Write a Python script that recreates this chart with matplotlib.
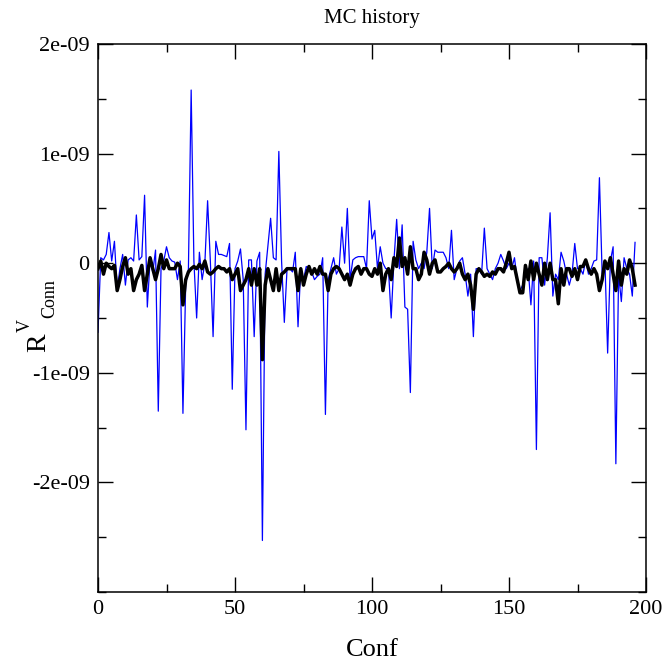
import matplotlib
matplotlib.use("Agg")
import matplotlib.pyplot as plt
import numpy as np

plt.rcParams['font.family'] = ['Liberation Serif', 'DejaVu Serif']

scale = 1e-10
blue = [-6.3, 0.5, 0.3, 0.8, 2.8, 0.2, 2.0, -2.4, -0.5, 0.8,
        -2.0, 0.3, 0.5, 0.2, 4.4, 0.3, 0.6, 6.2, -4.0, 0.3,
        -0.8, 1.2, -13.5, -0.5, 0.2, 1.5, 0.5, 0.2, 0.1, -1.5,
        0.2, -13.7, -2.0, -0.5, 15.8, 0.2, -5.0, 1.0, -1.5, 0.0,
        5.7, 0.2, -6.7, 2.0, 0.8, 0.8, 0.7, 0.6, 1.8, -11.5,
        -0.5, 0.2, 1.3, -1.5, -15.2, 0.3, 0.3, -6.7, 0.2, 1.0,
        -25.3, -1.0, 1.5, 4.1, 0.5, 0.3, 10.2, 0.2, -5.4, -0.5,
        -0.5, -0.8, 1.0, -5.8, -0.5, -1.5, -0.3, -0.5, -0.8, -1.5,
        -1.2, -1.0, 0.5, -13.8, -1.5, -0.5, 0.5, -1.0, -0.5, 3.3,
        0.0, 5.0, -1.5, 0.3, 0.5, 0.6, 0.6, 0.6, -0.5, 5.7,
        2.2, 3.0, -0.5, 1.5, 0.0, -0.5, -0.5, -5.0, 0.2, 4.0,
        -0.5, 3.5, -4.0, -4.2, -11.8, 2.0, 0.3, -0.5, 0.0, -0.5,
        1.0, 5.0, -0.5, 1.2, 1.0, 1.0, 1.0, 0.5, -0.5, 3.0,
        -1.5, -0.5, 0.2, 0.5, -1.0, -3.0, -1.0, -6.7, -0.5, -0.5,
        -1.0, 3.2, -0.5, -1.0, -1.5, -0.5, 0.0, 0.8, 0.2, -0.5,
        0.0, -0.5, 0.5, -1.5, -2.5, -2.0, -1.0, -0.5, -3.8, 0.2,
        -17.0, 0.5, 0.5, -2.0, 0.5, 4.6, -3.0, -1.0, -1.5, 1.0,
        0.2, -1.0, -2.0, -1.0, 1.8, -0.5, -0.5, -1.0, 0.3, -1.0,
        -0.5, 0.2, 0.3, 7.8, -1.0, 0.2, -8.2, 0.2, 1.5, -18.3,
        -1.0, -3.5, 0.5, -0.5, -1.0, -3.0, 1.9]
black = [-0.5, 0.2, -1.0, 0.0, -0.3, -0.5, -0.2, -2.5, -1.5, -0.3,
         0.5, -1.0, -0.5, -2.5, -1.5, -1.0, -0.2, -2.5, -1.0, 0.5,
         -0.5, -1.5, -0.5, 0.8, -0.5, 0.3, -0.5, -0.5, -0.5, 0.0,
         -0.3, -3.8, -1.5, -0.8, -0.5, -0.3, -0.5, -0.1, -0.5, 0.2,
         -0.8, -1.0, -0.8, -0.5, -0.3, -0.5, -0.5, -0.8, -0.5, -1.5,
         -1.0, -0.5, -2.5, -2.0, -1.5, -0.5, -2.0, -0.5, -2.0, -0.5,
         -8.8, -2.0, -0.5, -1.5, -2.5, -0.5, -2.5, -1.0, -0.8, -0.5,
         -0.5, -0.5, -0.5, -2.5, -0.5, -2.0, -1.0, -0.3, -1.0, -0.5,
         -1.0, -0.3, -1.0, -1.0, -2.5, -1.0, -0.5, -0.3, -0.5, -1.0,
         -1.5, -1.0, -2.0, -1.0, -0.5, -0.3, -1.0, -0.5, -0.5, -1.0,
         -1.2, -0.5, -1.0, 0.0, -2.5, -1.0, -0.5, -1.5, 0.5, -0.3,
         2.3, -0.3, 0.5, -1.0, 1.5, -0.5, -0.5, -1.5, -1.0, 1.0,
         0.3, -1.0, 0.0, 0.3, -0.8, -0.8, -0.5, -0.3, 0.0, -0.5,
         -0.8, -0.5, 0.0, -1.0, -1.5, -1.0, -2.0, -4.2, -1.0, -0.5,
         -0.8, -1.2, -1.0, -1.2, -0.8, -1.0, -0.5, -0.5, -0.8, 0.0,
         1.0, -0.5, -0.3, -1.5, -2.7, -2.7, -0.2, -1.5, 0.2, -1.5,
         0.0, -1.0, -2.0, 0.0, -1.5, 0.0, -1.5, -1.5, -3.7, -0.5,
         -2.0, -0.5, -0.5, -1.2, -0.5, -1.5, -0.3, -0.3, 0.3, -0.5,
         -1.0, -0.5, -1.0, -2.5, -1.5, 0.2, -0.5, 0.5, -1.0, -2.5,
         0.2, -2.0, -0.5, -1.0, 0.3, -0.5, -2.0]

conf = np.arange(len(blue))
blue_v = np.array(blue) * scale
black_v = np.array(black) * scale

xticks = [0, 50, 100, 150, 200]
yticks = [-2e-9, -1e-9, 0, 1e-9, 2e-9]
yticklabels = ['-2e-09', '-1e-09', '0', '1e-09', '2e-09']

W, H = 665, 669
fig = plt.figure(figsize=(W/100, H/100), dpi=100)
ax = fig.add_axes([98/W, 1-592/H, (646-98)/W, (592-44)/H])
ax.plot(conf, blue_v, color='#0000ff', lw=0.9)
ax.plot(conf, black_v, color='black', lw=2.5)

ax.set_xlim(0, 200)
ax.set_ylim(-3e-9, 2e-9)
ax.set_xticks(xticks)
ax.set_xticks(np.arange(0, 201, 25), minor=True)
ax.set_yticks(yticks)
ax.set_yticklabels(yticklabels)
ax.set_yticks(np.arange(-3e-9, 2.01e-9, 0.5e-9), minor=True)
ax.tick_params(which='both', direction='in', top=True, right=True, labelsize=16, width=1.0)
ax.tick_params(which='major', length=11, pad=6)
ax.tick_params(which='minor', length=5.5)
for s in ax.spines.values():
    s.set_linewidth(1.1)

fig.text(372/W, 1-18/H, 'MC history', fontsize=15, ha='center', va='center')
fig.text(372/W, 1-650/H, 'Conf', fontsize=19, ha='center', va='center')
# y label: R with superscript V and subscript Conn (Grace style)
fig.text(39/W, 1-343/H, 'R', fontsize=20, rotation=90, ha='center', va='center')
fig.text(25/W, 1-326/H, 'V', fontsize=13, rotation=90, ha='center', va='center')
fig.text(50/W, 1-299/H, 'Conn', fontsize=13, rotation=90, ha='center', va='center')

fig.savefig('out.png', dpi=100)
